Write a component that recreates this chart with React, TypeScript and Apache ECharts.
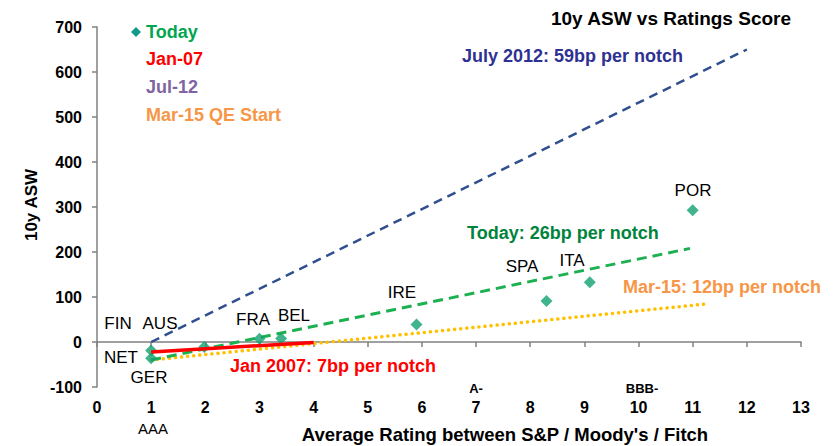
import React, { useEffect, useRef } from "react";
import * as echarts from "echarts";

// ---- data ----
const pointNames = ["GER", "NET", "AA+", "FRA", "BEL", "IRE", "SPA", "ITA", "POR"];
const pointRating = [1, 1, 1.98, 3, 3.4, 5.9, 8.3, 9.1, 11];
const pointAsw = [-36, -19, -11, 7, 8, 39, 91, 133, 293];

const jul12X = [1, 12];
const jul12Y = [0, 650];
const todayFitX = [1, 10.95];
const todayFitY = [-40, 208];
const mar15X = [1, 11.2];
const mar15Y = [-40, 84];
const jan07X = [1, 4];
const jan07Y = [-22, -1];

const xMin = 0;
const xMax = 13;
const yMin = -100;
const yMax = 700;

const countryLabels = ["FIN", "AUS", "NET", "GER", "FRA", "BEL", "IRE", "SPA", "ITA", "POR"];
const ratingLabels = ["AAA", "A-", "BBB-"];
const legendNames = ["Today", "Jan-07", "Jul-12", "Mar-15 QE Start"];
const fitNotes = [
  "July 2012: 59bp per notch",
  "Today: 26bp per notch",
  "Mar-15: 12bp per notch",
  "Jan 2007: 7bp per notch",
];

// ---- layout / style ----
const FONT = '"Liberation Sans", Arial, Helvetica, sans-serif';
const countryPos: [number, number][] = [
  [118, 323], [160, 323], [121, 357], [149, 377], [253, 319],
  [294, 315], [402, 292], [522, 266], [572, 260], [693, 190],
];
const ratingPos: [number, number, number, string][] = [
  [153, 428, 15, "normal"], [476, 388, 13, "bold"], [642, 388, 13, "bold"],
];
const legendColors = ["#00a650", "#ff0000", "#8064a2", "#f79646"];
const legendY = [32, 59, 87, 115];
const noteColors = ["#2e3192", "#00843d", "#f79646", "#ff0000"];
const notePos: [number, number][] = [[462, 56], [467, 233], [623, 287], [230, 366]];

const zip = (xs: number[], ys: number[]) => xs.map((x, i) => [x, ys[i]]);

export default function App() {
  const ref = useRef<HTMLDivElement>(null);
  useEffect(() => {
    document.body.style.margin = "0";
    if (!ref.current) return;
    const chart = echarts.init(ref.current, undefined, { renderer: "svg" });
    const graphic: any[] = [];
    graphic.push({
      type: "text", x: 671, y: 18,
      style: { text: "10y ASW vs Ratings Score", fill: "#000", font: `bold 19px ${FONT}`, align: "center", verticalAlign: "middle" },
    });
    graphic.push({
      type: "polygon",
      shape: { points: [[136, 27], [141, 32], [136, 37], [131, 32]] },
      style: { fill: "#13998a" },
    });
    legendNames.forEach((n, i) => {
      graphic.push({
        type: "text", x: 146, y: legendY[i],
        style: { text: n, fill: legendColors[i], font: `bold 18px ${FONT}`, align: "left", verticalAlign: "middle" },
      });
    });
    fitNotes.forEach((n, i) => {
      graphic.push({
        type: "text", x: notePos[i][0], y: notePos[i][1],
        style: { text: n, fill: noteColors[i], font: `bold 18px ${FONT}`, align: "left", verticalAlign: "middle" },
      });
    });
    countryLabels.forEach((n, i) => {
      graphic.push({
        type: "text", x: countryPos[i][0], y: countryPos[i][1],
        style: { text: n, fill: "#000", font: `17px ${FONT}`, align: "center", verticalAlign: "middle" },
      });
    });
    ratingLabels.forEach((n, i) => {
      const p = ratingPos[i];
      graphic.push({
        type: "text", x: p[0], y: p[1],
        style: { text: n, fill: "#000", font: `${p[3]} ${p[2]}px ${FONT}`, align: "center", verticalAlign: "middle" },
      });
    });
    graphic.push({
      type: "text", x: 505, y: 434,
      style: { text: "Average Rating between S&P / Moody's / Fitch", fill: "#000", font: `bold 18.5px ${FONT}`, align: "center", verticalAlign: "middle" },
    });
    graphic.push({
      type: "text", x: 31, y: 205, rotation: Math.PI / 2,
      style: { text: "10y ASW", fill: "#000", font: `bold 17px ${FONT}`, align: "center", verticalAlign: "middle" },
    });

    chart.setOption({
      animation: false,
      backgroundColor: "#fff",
      grid: { left: 97, right: 33, top: 27, bottom: 59 },
      xAxis: [
        {
          type: "value", min: xMin, max: xMax, interval: 1, position: "bottom",
          axisLine: { show: true, onZero: true, lineStyle: { color: "#808080", width: 1.5 } },
          axisTick: { show: true, length: 5, lineStyle: { color: "#808080", width: 1.5 } },
          axisLabel: { show: false },
          splitLine: { show: false },
        },
        {
          type: "value", min: xMin, max: xMax, interval: 1, position: "bottom",
          axisLine: { show: false, onZero: false },
          axisTick: { show: false },
          axisLabel: { show: true, margin: 12, color: "#000", fontWeight: "bold", fontSize: 16, fontFamily: FONT },
          splitLine: { show: false },
        },
      ],
      yAxis: {
        type: "value", min: yMin, max: yMax, interval: 100,
        axisLine: { show: true, onZero: false, lineStyle: { color: "#808080", width: 1.5 } },
        axisTick: { show: true, length: 5, lineStyle: { color: "#808080", width: 1.5 } },
        axisLabel: { margin: 15, color: "#000", fontWeight: "bold", fontSize: 16, fontFamily: FONT },
        splitLine: { show: false },
      },
      series: [
        {
          name: "Jul-12 fit", type: "line", xAxisIndex: 0, data: zip(jul12X, jul12Y), symbol: "none",
          lineStyle: { color: "#2f4f8f", width: 2.5, type: [9, 6] }, z: 2,
        },
        {
          name: "Mar-15 fit", type: "line", xAxisIndex: 0, data: zip(mar15X, mar15Y), symbol: "none",
          lineStyle: { color: "#ffc000", width: 3.5, type: [0.1, 6], cap: "round" }, z: 2,
        },
        {
          name: "Today fit", type: "line", xAxisIndex: 0, data: zip(todayFitX, todayFitY), symbol: "none",
          lineStyle: { color: "#1db050", width: 3, type: [10, 6] }, z: 3,
        },
        {
          name: "Today", type: "scatter", xAxisIndex: 0, data: zip(pointRating, pointAsw).map((d, i) => ({ name: pointNames[i], value: d })),
          symbol: "diamond", symbolSize: 12, itemStyle: { color: "#12a070" }, z: 4,
        },
        {
          name: "Jan-07 fit", type: "line", xAxisIndex: 0, data: zip(jan07X, jan07Y), symbol: "none",
          lineStyle: { color: "#ff0000", width: 3.5 }, z: 5,
        },
      ],
      graphic,
    });
    return () => chart.dispose();
  }, []);
  return <div ref={ref} style={{ width: 834, height: 446 }} />;
}
